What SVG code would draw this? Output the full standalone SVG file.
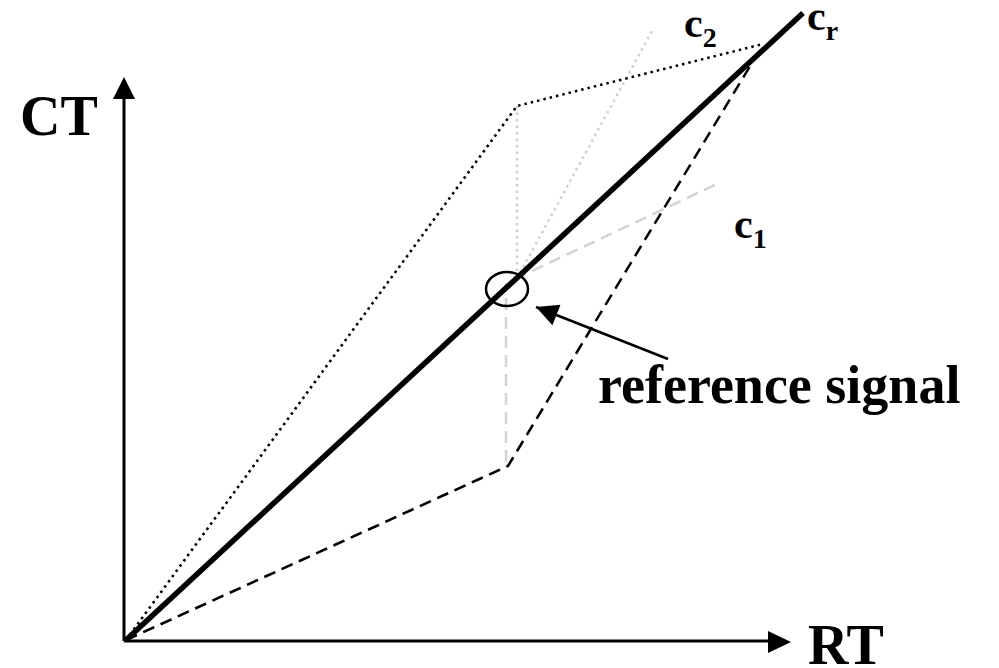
<svg xmlns="http://www.w3.org/2000/svg" width="999" height="668" viewBox="0 0 999 668">
<style>
.lbl{font-family:"Liberation Serif","Times New Roman",serif;font-weight:bold;fill:#000}
.ax{stroke:#000;stroke-width:3;fill:none}
.dot{stroke:#000;stroke-width:2.5;fill:none;stroke-dasharray:2.5 4}
.gdot{stroke:#cfcfcf;stroke-width:2.5;fill:none;stroke-dasharray:2.5 4}
.dash{stroke:#000;stroke-width:2.5;fill:none;stroke-dasharray:12 7}
.gdash{stroke:#d3d3d3;stroke-width:2.5;fill:none;stroke-dasharray:12 7}
</style>
<defs>
<marker id="ah" viewBox="0 0 10 10" refX="10" refY="5" markerWidth="24" markerHeight="22" markerUnits="userSpaceOnUse" orient="auto">
<path d="M0,0 L10,5 L0,10 z" fill="#000"/>
</marker>
</defs>
<g id="axes">
<line class="ax" x1="124" y1="641" x2="124" y2="98"/>
<polygon points="124,77 113,99 135,99" fill="#000"/>
<line class="ax" x1="124" y1="641" x2="769" y2="641"/>
<polygon points="791,642 768,631 768,653" fill="#000"/>
</g>
<g id="connectors">
<polyline class="gdash" points="126,640 508,466"/>
<polyline class="gdash" points="506,462 506,283"/>
<polyline class="gdash" points="515,279 719,183"/>
<polyline class="gdot" points="126,640 517,106"/>
<polyline class="gdot" points="517,106 517,273"/>
<polyline class="gdot" points="520,273 652,31"/>
<polyline class="dot" points="126,640 517,106 763,44"/>
<polyline class="dash" points="126,640 508,466 755,58"/>
<line x1="126" y1="640" x2="803" y2="13" stroke="#000" stroke-width="5.5"/>
<line x1="668" y1="359" x2="536" y2="307" stroke="#000" stroke-width="2.5" marker-end="url(#ah)"/>
</g>
<g id="ref-point">
<ellipse cx="507" cy="289" rx="21" ry="17" fill="none" stroke="#000" stroke-width="2.5"/>
</g>
<g id="labels">
<text class="lbl" x="20" y="135" font-size="56">CT</text>
<text class="lbl" x="808" y="664" font-size="56">RT</text>
<text class="lbl" x="598" y="403" font-size="54">reference signal</text>
<text class="lbl" x="684" y="37" font-size="42">c<tspan font-size="28" dy="10">2</tspan></text>
<text class="lbl" x="807" y="30" font-size="42">c<tspan font-size="28" dy="10">r</tspan></text>
<text class="lbl" x="734" y="238" font-size="42">c<tspan font-size="28" dy="10">1</tspan></text>
</g>
</svg>
